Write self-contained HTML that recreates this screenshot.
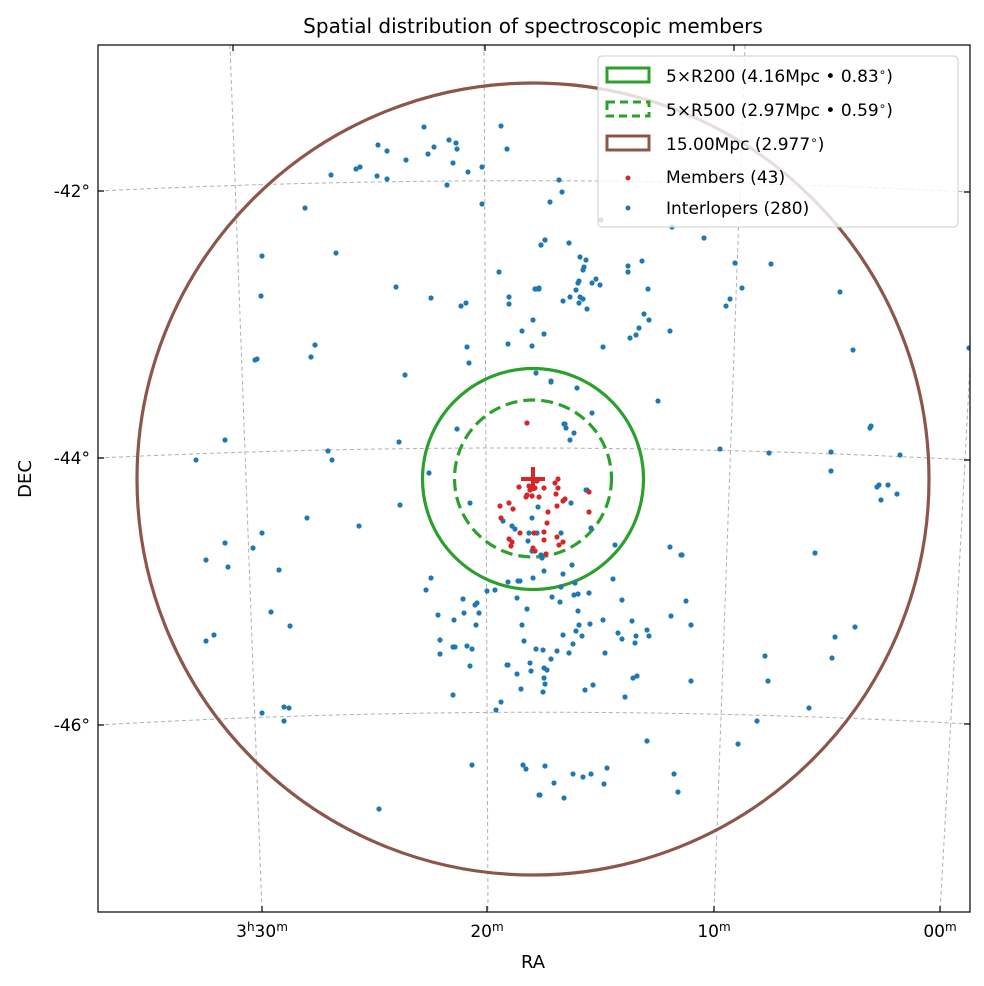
<!DOCTYPE html>
<html><head><meta charset="utf-8"><style>
body{margin:0;background:#fff;}
svg{display:block;font-family:"DejaVu Sans","Liberation Sans",sans-serif;}
</style></head><body>
<svg id="s" width="984" height="986" viewBox="0 0 984 986" xmlns="http://www.w3.org/2000/svg">
<rect width="984" height="986" fill="#fff"/>
<text x="533" y="33" font-size="20" text-anchor="middle">Spatial distribution of spectroscopic members</text>
<defs><clipPath id="c"><rect x="98" y="45" width="872" height="867"/></clipPath></defs>
<g clip-path="url(#c)" fill="none" stroke="#b0b0b0" stroke-width="1" stroke-dasharray="4,3">
<path d="M98,191 Q533,170 970,192"/>
<path d="M98,458 Q533,437 970,460"/>
<path d="M98,725 Q533,700 970,724"/>
<path d="M230,45 L262,912"/>
<path d="M484,45 L488,912"/>
<path d="M745,45 L714,912"/>
<path d="M985,45 Q975,300 940,912"/>
</g>
<g clip-path="url(#c)">
<circle cx="533" cy="479" r="396" fill="none" stroke="#8c564b" stroke-width="3.2"/>
<circle cx="533" cy="479" r="110.5" fill="none" stroke="#2ca02c" stroke-width="3.2"/>
<circle cx="533" cy="478.5" r="78.5" fill="none" stroke="#2ca02c" stroke-width="3.2" stroke-dasharray="12,6"/>
<g id="pts"></g>
<path d="M521,479 H545 M533,467 V491" stroke="#d62728" stroke-width="4"/>
</g>
<rect x="98" y="45" width="872" height="867" fill="none" stroke="#000" stroke-width="1.2"/>
<g stroke="#000" stroke-width="1.2">
<path d="M98,191 h6 M98,458 h6 M98,725 h6"/>
<path d="M970,192 h-6 M970,460 h-6 M970,724 h-6"/>
<path d="M262,912 v-6 M487,912 v-6 M714,912 v-6 M940,912 v-6"/>
<path d="M233,45 v6 M485,45 v6 M734,45 v6"/>
</g>
<g font-size="17" text-anchor="end">
<text x="90" y="197">-42°</text>
<text x="90" y="464">-44°</text>
<text x="90" y="731">-46°</text>
</g>
<g font-size="17" text-anchor="middle">
<text x="262" y="937">3<tspan font-size="12" dy="-6">h</tspan><tspan dy="6">30</tspan><tspan font-size="12" dy="-6">m</tspan></text>
<text x="487" y="937">20<tspan font-size="12" dy="-6">m</tspan></text>
<text x="714" y="937">10<tspan font-size="12" dy="-6">m</tspan></text>
<text x="940" y="937">00<tspan font-size="12" dy="-6">m</tspan></text>
<text x="533" y="968" font-size="18">RA</text>
<text transform="translate(31,479) rotate(-90)" font-size="18">DEC</text>
</g>
<g>
<rect x="598" y="56" width="360" height="171" rx="4" fill="#fff" fill-opacity="0.8" stroke="#ccc" stroke-width="1"/>
<rect x="607" y="68" width="42" height="14" fill="none" stroke="#2ca02c" stroke-width="3"/>
<rect x="607" y="102" width="42" height="14" fill="none" stroke="#2ca02c" stroke-width="3" stroke-dasharray="8,5"/>
<rect x="607" y="136" width="42" height="14" fill="none" stroke="#8c564b" stroke-width="3"/>
<circle cx="628" cy="178" r="2.5" fill="#d62728"/>
<circle cx="628" cy="208" r="2.5" fill="#1f77b4"/>
<g font-size="17">
<text x="666" y="82">5×R200 (4.16Mpc • 0.83<tspan font-size="12" dy="-6">∘</tspan><tspan dy="6">)</tspan></text>
<text x="666" y="116">5×R500 (2.97Mpc • 0.59<tspan font-size="12" dy="-6">∘</tspan><tspan dy="6">)</tspan></text>
<text x="666" y="150">15.00Mpc (2.977<tspan font-size="12" dy="-6">∘</tspan><tspan dy="6">)</tspan></text>
<text x="666" y="183">Members (43)</text>
<text x="666" y="214">Interlopers (280)</text>
</g>
</g>
</svg>
<script>
var B=[424,127,501,126,378,145,387,151,434,147,428,154,449,140,456,143,457,149,507,149,406,160,356,169,360,167,331,175,377,176,387,179,453,163,468,172,482,167,447,185,482,204,305,208,262,256,336,253,261,296,396,287,431,298,461,306,466,303,499,272,509,297,509,304,536,289,539,289,541,245,545,240,533,320,522,331,544,334,508,344,532,346,467,347,469,363,315,345,311,357,255,360,257,359,405,375,536,373,457,429,399,442,225,440,196,460,328,451,332,460,429,473,
559,180,562,192,550,202,672,227,704,238,541,245,545,240,569,243,580,257,586,260,584,267,583,270,579,281,578,283,576,290,592,283,596,279,600,285,628,266,628,272,642,261,648,289,535,289,539,288,570,297,563,301,580,297,583,299,579,303,587,309,603,347,644,314,649,320,639,328,636,335,630,338,670,331,735,263,771,264,742,288,730,299,726,306,840,292,853,350,551,381,577,388,658,401,592,413,565,424,566,428,574,433,570,440,720,449,769,453,831,452,900,455,871,426,870,428,831,471,969,348,601,220,
400,505,307,518,359,526,262,533,225,543,253,548,206,560,228,567,279,570,271,612,290,626,206,641,214,635,470,503,431,578,426,590,463,599,475,605,477,603,438,615,454,620,464,613,479,613,476,625,440,640,453,647,455,647,467,646,472,649,440,654,470,666,453,695,487,591,495,590,508,582,518,581,520,581,533,578,517,598,527,609,522,625,524,641,536,649,543,650,508,665,517,674,530,663,531,671,521,689,543,692,501,702,496,710,262,713,284,707,289,708,284,721,472,765,523,765,526,769,545,766,540,795,379,809,
551,382,564,424,538,507,532,518,571,503,586,490,503,521,512,526,515,529,529,533,537,533,561,533,528,541,532,551,541,555,542,558,591,528,615,545,670,547,681,555,572,565,563,574,544,571,613,579,561,587,575,583,574,595,578,594,589,593,552,597,560,602,578,611,622,600,686,601,671,616,691,625,603,620,632,621,590,624,579,625,576,631,582,636,563,635,573,644,569,653,618,633,622,639,636,636,635,643,647,630,649,636,605,653,557,651,551,659,507,665,544,668,547,670,544,678,545,684,585,690,593,685,625,697,633,678,637,676,691,681,647,741,554,783,573,774,583,777,591,774,607,768,604,784,539,795,564,798,674,774,678,792,
879,485,877,487,888,485,897,494,881,500,815,553,682,555,855,627,835,637,832,658,765,656,768,681,809,708,757,721,738,744,587,490];
var R=[527,423,519,487,526,497,530,490,535,488,539,497,544,488,555,483,558,479,558,488,556,494,565,499,563,501,557,506,548,512,589,492,589,512,500,506,509,503,513,509,501,518,547,523,520,533,544,532,544,540,557,537,563,542,559,545,509,539,512,542,511,546,533,548,535,551,546,554,534,533,532,496,527,495,537,481,529,486];
var P=document.getElementById('pts'),h='';
for(var i=0;i<B.length;i+=2)h+='<circle cx="'+B[i]+'" cy="'+B[i+1]+'" r="2.6" fill="#1f77b4"/>';
for(var i=0;i<R.length;i+=2)h+='<circle cx="'+R[i]+'" cy="'+R[i+1]+'" r="2.6" fill="#d62728"/>';
P.innerHTML=h;
</script>
</body></html>
